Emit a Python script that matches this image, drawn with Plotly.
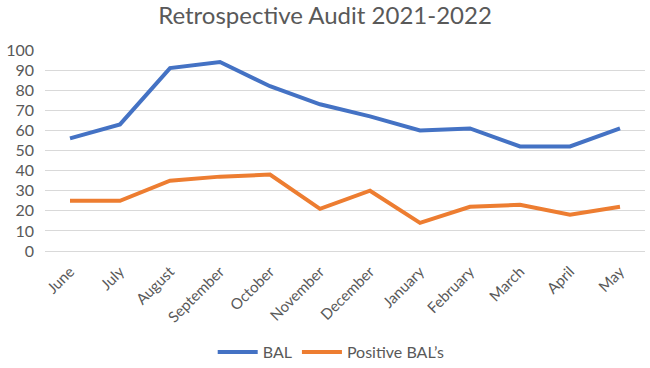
import plotly.graph_objects as go

months = ["June", "July", "August", "September", "October", "November",
          "December", "January", "February", "March", "April", "May"]
bal = [56, 63, 91, 94, 82, 73, 67, 60, 61, 52, 52, 61]
positive_bal = [25, 25, 35, 37, 38, 21, 30, 14, 22, 23, 18, 22]
y_ticks = list(range(0, 101, 10))

font_family = "Lato, 'Open Sans', sans-serif"
gray = "#595959"

fig = go.Figure()
fig.add_trace(go.Scatter(x=months, y=bal, mode="lines", name="BAL",
                         line=dict(color="#4472C4", width=4)))
fig.add_trace(go.Scatter(x=months, y=positive_bal, mode="lines", name="Positive BAL\u2019s",
                         line=dict(color="#ED7D31", width=4)))

fig.update_layout(
    width=650, height=368,
    margin=dict(l=45, r=5, t=50, b=117),
    paper_bgcolor="white", plot_bgcolor="white",
    title=dict(text="Retrospective Audit 2021-2022", x=0.5, xanchor="center",
               y=0.958, yanchor="middle",
               font=dict(family=font_family, size=24, color=gray)),
    font=dict(family=font_family, color=gray),
    xaxis=dict(type="category", range=[-0.5, 11.5], tickangle=-45,
               showgrid=False, showline=False, ticks="", automargin=False,
               ticklabelstandoff=8,
               tickfont=dict(size=15, color=gray)),
    yaxis=dict(range=[0, 100], tickvals=y_ticks, showgrid=True,
               gridcolor="#d9d9d9", gridwidth=1, zeroline=True,
               zerolinecolor="#d9d9d9", zerolinewidth=1, automargin=False,
               showline=False, ticks="", ticklabelstandoff=10,
               tickfont=dict(size=16, color=gray)),
    legend=dict(orientation="h", x=0.477, xanchor="center",
                yref="container", y=0.043, yanchor="middle",
                font=dict(size=16, color=gray), itemwidth=40),
    showlegend=True,
)

fig.write_html("out.html")
